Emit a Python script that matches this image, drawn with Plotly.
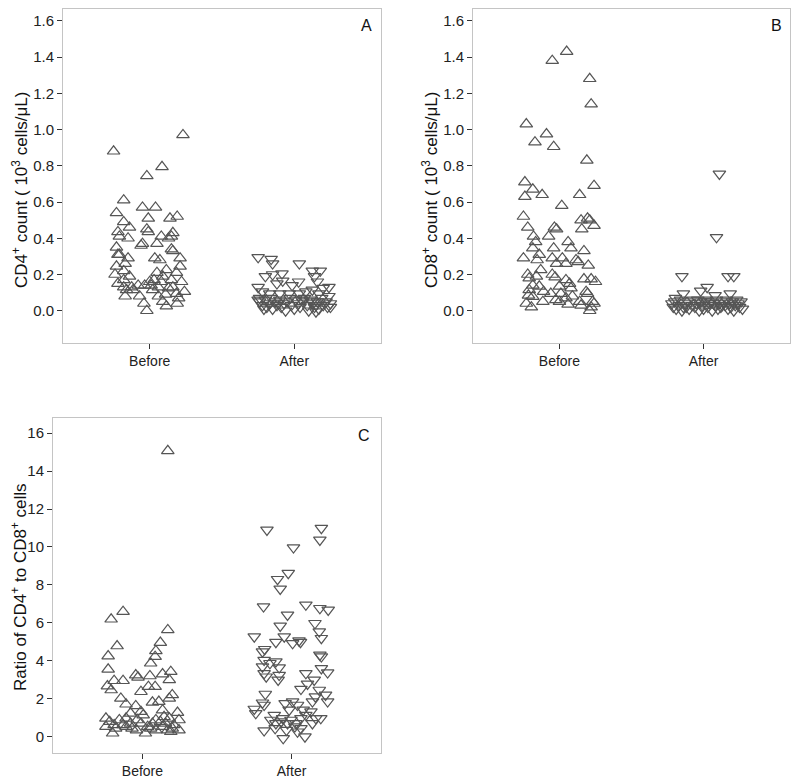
import plotly.graph_objects as go

# ---------------- data ----------------
categories = ["Before", "After"]

cd4_before = [0.88, 0.97, 0.744, 0.794, 0.61, 0.54, 0.57, 0.57, 0.49, 0.46, 0.51, 0.51, 0.52, 0.435, 0.41, 0.40,
              0.45, 0.435, 0.37, 0.36, 0.37, 0.41, 0.40, 0.43, 0.41, 0.34, 0.33, 0.35, 0.31, 0.31, 0.29, 0.29,
              0.245, 0.29, 0.28, 0.245, 0.26, 0.20, 0.19, 0.22, 0.15, 0.13, 0.115, 0.08, 0.115, 0.14, 0.08, 0.04,
              0.0, 0.14, 0.16, 0.115, 0.08, 0.05, 0.025, 0.09, 0.125, 0.17, 0.21, 0.19, 0.225, 0.095, 0.07, 0.04,
              0.105, 0.16, 0.21, 0.17, 0.14, 0.16, 0.13, 0.13, 0.13, 0.17]
cd4_before_jit = [-0.25, 0.23, -0.02, 0.085, -0.18, -0.23, -0.05, 0.04, -0.18, -0.14, -0.01, 0.14, 0.19, -0.22, -0.21, -0.15,
                  -0.02, -0.01, -0.05, -0.06, 0.05, 0.08, 0.13, 0.16, 0.15, 0.15, 0.16, -0.23, -0.22, -0.21, -0.15, 0.21,
                  0.21, 0.035, 0.07, -0.23, -0.17, -0.24, -0.14, -0.18, -0.22, -0.18, -0.16, -0.17, -0.115, -0.08, -0.07, -0.04,
                  -0.02, 0.01, 0.0, 0.02, 0.06, 0.09, 0.115, 0.11, 0.13, 0.15, 0.185, 0.09, 0.115, 0.185, 0.2, 0.19,
                  0.24, 0.22, 0.05, 0.03, -0.035, 0.08, 0.06, 0.16, -0.125, -0.18]

cd4_after = [0.295, 0.285, 0.26, 0.26, 0.19, 0.20, 0.205, 0.15, 0.165, 0.14, 0.16, 0.22, 0.22, 0.19, 0.16, 0.13,
             0.125, 0.13, 0.105, 0.095, 0.095, 0.095, 0.095, 0.105, 0.095, 0.08, 0.115, 0.07, 0.02, -0.005,
             0.05, 0.03, 0.06, 0.02, 0.04, 0.07, 0.01, 0.05, 0.03, 0.06, 0.02, 0.04, 0.0, 0.05, 0.07, 0.03,
             0.01, 0.06, 0.04, 0.02, 0.05, 0.07, 0.03, 0.0, 0.06, 0.04, 0.02, 0.05, 0.01, 0.07, 0.03, 0.05,
             0.02, 0.04, 0.06, 0.01, 0.03, 0.05, 0.04, 0.06]
cd4_after_jit = [-0.25, -0.16, 0.035, -0.15, -0.2, -0.15, -0.085, -0.12, -0.08, -0.015, 0.03, 0.125, 0.18, 0.14, 0.16, 0.24,
                 0.2, -0.25, -0.22, -0.17, -0.1, -0.035, 0.035, 0.08, 0.17, 0.24, 0.125, -0.24, 0.25, 0.15,
                 -0.24, -0.22, -0.2, -0.19, -0.17, -0.16, -0.15, -0.13, -0.12, -0.1, -0.09, -0.07, -0.06, -0.05, -0.03, -0.02,
                 0.0, 0.01, 0.03, 0.04, 0.06, 0.07, 0.09, 0.1, 0.11, 0.13, 0.14, 0.16, 0.17, 0.19, 0.2, 0.22,
                 0.23, 0.25, -0.25, -0.21, 0.15, 0.12, -0.11, 0.05]

cd8_before = [1.43, 1.38, 1.28, 1.14, 1.03, 0.975, 0.93, 0.905, 0.83, 0.71, 0.67, 0.63, 0.64, 0.69, 0.64, 0.58,
              0.52, 0.46, 0.46, 0.45, 0.50, 0.51, 0.50, 0.45, 0.47, 0.41, 0.38, 0.345, 0.41, 0.345, 0.38, 0.345,
              0.33, 0.29, 0.31, 0.28, 0.29, 0.29, 0.26, 0.26, 0.28, 0.27, 0.25, 0.20, 0.18, 0.19, 0.225, 0.20,
              0.185, 0.175, 0.175, 0.16, 0.14, 0.135, 0.115, 0.105, 0.135, 0.17, 0.15, 0.125, 0.095, 0.07, 0.105, 0.095,
              0.085, 0.04, 0.02, 0.05, 0.06, 0.05, 0.035, 0.05, 0.03, 0.02, 0.05, 0.04, 0.0, 0.08, 0.095, 0.078]
cd8_before_jit = [0.05, -0.05, 0.21, 0.22, -0.23, -0.09, -0.17, -0.04, 0.19, -0.24, -0.185, -0.24, -0.12, 0.24, 0.14, 0.016,
                  -0.25, -0.22, -0.035, -0.02, 0.15, 0.195, 0.21, 0.155, 0.24, -0.18, -0.165, -0.185, -0.075, -0.04, 0.06, 0.08,
                  0.17, -0.25, -0.14, -0.155, -0.05, 0.02, -0.02, 0.045, 0.115, 0.13, 0.2, -0.22, -0.21, -0.16, -0.13, -0.05,
                  -0.03, 0.17, 0.22, 0.25, -0.185, -0.14, -0.21, -0.11, 0.0, 0.045, 0.07, 0.08, 0.01, 0.045, 0.185, 0.195,
                  -0.215, -0.23, -0.195, -0.115, -0.025, 0.0, 0.06, 0.14, 0.15, 0.22, 0.23, 0.24, 0.21, 0.09, -0.06, -0.185]

cd8_after = [0.755, 0.405, 0.19, 0.19, 0.19, 0.13, 0.11, 0.095, 0.095, 0.085, 0.07,
             0.04, 0.02, 0.05, 0.01, 0.03, 0.06, 0.0, 0.04, 0.02, 0.05, 0.01, 0.03, 0.06, 0.02, 0.04, 0.0,
             0.05, 0.03, 0.01, 0.06, 0.02, 0.04, 0.05, 0.0, 0.03, 0.06, 0.01, 0.04, 0.02, 0.05, 0.03, 0.06,
             0.01, 0.04, 0.02, 0.05, 0.0, 0.03, 0.06, 0.04, 0.02, 0.05, 0.01, 0.03, 0.04, 0.06, 0.02, 0.05]
cd8_after_jit = [0.11, 0.09, -0.15, 0.17, 0.21, 0.025, -0.02, -0.14, 0.185, 0.08, -0.195,
                 -0.22, -0.21, -0.2, -0.19, -0.17, -0.16, -0.15, -0.13, -0.12, -0.11, -0.1, -0.08, -0.07, -0.06, -0.05, -0.03,
                 -0.02, -0.01, 0.0, 0.02, 0.03, 0.04, 0.05, 0.06, 0.08, 0.09, 0.1, 0.11, 0.12, 0.14, 0.15, 0.16,
                 0.17, 0.18, 0.19, 0.2, 0.21, 0.22, 0.23, 0.24, 0.25, 0.26, 0.27, 0.13, 0.07, -0.04, -0.14, 0.01]

ratio_before = [15.07, 6.19, 6.59, 4.78, 4.25, 3.55, 5.63, 4.96, 4.52, 4.22, 3.87, 2.95, 2.95, 2.67, 2.46, 2.02,
                1.71, 3.25, 3.13, 3.2, 3.3, 3.43, 2.99, 2.37, 2.64, 2.64, 1.81, 1.85, 2.2, 2.02, 1.32, 1.14,
                1.62, 1.23, 1.4, 1.27, 0.88, 0.97, 0.79, 0.53, 0.62, 0.18, 0.88, 0.62, 0.53, 0.7, 0.44, 0.88,
                0.7, 0.18, 0.53, 0.7, 0.35, 0.79, 0.53, 0.7, 0.35, 0.26, 0.62, 0.35, 0.97, 1.05, 0.44, 0.44,
                0.97, 0.35, 0.88, 0.44]
ratio_before_jit = [0.17, -0.21, -0.13, -0.17, -0.23, -0.23, 0.17, 0.12, 0.09, 0.085, 0.055, -0.19, -0.13, -0.235, -0.21, -0.145,
                    -0.11, -0.045, -0.03, 0.05, 0.135, 0.19, 0.18, -0.01, 0.04, 0.085, 0.067, 0.11, 0.2, 0.18, -0.01, 0.005,
                    -0.045, -0.08, 0.135, 0.235, 0.245, -0.245, -0.22, -0.245, -0.19, -0.2, -0.155, -0.13, -0.11, -0.08, -0.07, -0.035,
                    -0.01, 0.02, 0.035, 0.067, 0.09, 0.12, 0.135, 0.155, 0.17, 0.19, 0.21, 0.245, 0.18, 0.145, -0.18, 0.055,
                    -0.11, -0.04, 0.09, 0.2]

ratio_after = [10.9, 10.99, 10.37, 9.97, 8.62, 8.3, 7.79, 6.95, 6.86, 6.77, 6.68, 6.42, 5.98, 5.84, 5.27, 5.27,
               5.54, 5.19, 4.98, 4.92, 5.06, 4.98, 4.61, 4.48, 4.31, 4.22, 4.04, 3.87, 3.96, 3.69, 3.34, 3.16,
               3.64, 3.25, 2.99, 3.34, 3.6, 3.38, 2.99, 2.78, 2.51, 2.46, 2.2, 1.85, 2.25, 1.79, 1.67, 1.46,
               1.23, 1.76, 1.85, 1.67, 1.85, 2.11, 1.14, 0.88, 0.7, 0.97, 0.7, 0.88, 0.7, 0.97, 1.14, 1.32,
               0.97, 0.97, 1.41, 1.41, 0.32, 0.44, -0.09, 0.35, 0.26, 0.0, 0.53, 0.7, 0.44, 0.79]
ratio_after_jit = [-0.165, 0.2, 0.19, 0.013, -0.022, -0.094, -0.076, 0.096, -0.188, 0.19, 0.246, -0.027, 0.157, -0.076, -0.25, -0.049,
                   0.186, 0.2, -0.105, 0.007, 0.05, 0.06, -0.18, -0.195, 0.19, 0.2, -0.184, -0.145, -0.105, -0.195, -0.184, -0.17,
                   -0.083, -0.083, -0.09, 0.096, 0.2, 0.242, 0.152, 0.107, 0.063, 0.186, 0.228, 0.242, -0.176, -0.195, -0.184, -0.25,
                   -0.24, -0.043, 0.007, 0.04, 0.14, 0.16, -0.116, -0.139, -0.105, -0.06, -0.027, -0.004, 0.03, 0.063, 0.096, 0.13,
                   0.163, 0.196, 0.078, -0.016, -0.184, -0.11, -0.056, -0.034, 0.04, 0.09, 0.022, 0.14, 0.063, -0.07]

y_ticks_count = [0.0, 0.2, 0.4, 0.6, 0.8, 1.0, 1.2, 1.4, 1.6]
y_ticks_ratio = [0, 2, 4, 6, 8, 10, 12, 14, 16]

# ---------------- figure ----------------
# the page body has an 8px default margin; the figure is sized so that it
# ends exactly at the 800x783 window edge
OFF = 8
W, H = 800 - OFF, 783 - OFF
FONT = "Liberation Sans, Arial, sans-serif"
MCOL = "#555555"


def px_x(p):
    return (p - OFF) / W


def px_y(p):
    return 1 - (p - OFF) / H


fig = go.Figure()

panels = [
    ("x", "y", cd4_before, cd4_before_jit, cd4_after, cd4_after_jit),
    ("x2", "y2", cd8_before, cd8_before_jit, cd8_after, cd8_after_jit),
    ("x3", "y3", ratio_before, ratio_before_jit, ratio_after, ratio_after_jit),
]

for xa, ya, bv, bj, av, aj in panels:
    fig.add_trace(go.Scatter(
        x=[1 + j for j in bj], y=bv, mode="markers", xaxis=xa, yaxis=ya,
        marker=dict(symbol="triangle-up-open", size=11, color=MCOL, line=dict(width=1.2, color=MCOL)),
        showlegend=False, hoverinfo="y"))
    fig.add_trace(go.Scatter(
        x=[2 + j for j in aj], y=av, mode="markers", xaxis=xa, yaxis=ya,
        marker=dict(symbol="triangle-down-open", size=11, color=MCOL, line=dict(width=1.2, color=MCOL)),
        showlegend=False, hoverinfo="y"))

axis_common = dict(showline=True, linecolor="#c4c4c4", linewidth=1, mirror=True,
                   showgrid=False, zeroline=False, ticks="outside", ticklen=5,
                   tickcolor="#333333", tickwidth=1,
                   tickfont=dict(family=FONT, size=14, color="#222222"))

xcommon = dict(axis_common, range=[0.4, 2.6], tickvals=[1, 2], ticktext=categories)
yfont = dict(family=FONT, size=15, color="#222222")

fig.update_layout(
    width=W, height=H,
    margin=dict(l=0, r=0, t=0, b=0),
    paper_bgcolor="white", plot_bgcolor="white",
    font=dict(family=FONT, color="#222222"),
    xaxis=dict(xcommon, domain=[px_x(63), px_x(381)], anchor="y"),
    yaxis=dict(axis_common, domain=[px_y(343), px_y(9)], anchor="x",
               range=[-0.178, 1.665], tickvals=y_ticks_count, tickfont=yfont,
               ticktext=[f"{v:.1f}" for v in y_ticks_count]),
    xaxis2=dict(xcommon, domain=[px_x(473), px_x(790)], anchor="y2"),
    yaxis2=dict(axis_common, domain=[px_y(343), px_y(9)], anchor="x2",
                range=[-0.178, 1.665], tickvals=y_ticks_count, tickfont=yfont,
                ticktext=[f"{v:.1f}" for v in y_ticks_count]),
    xaxis3=dict(xcommon, domain=[px_x(53), px_x(381)], anchor="y3"),
    yaxis3=dict(axis_common, domain=[px_y(753), px_y(418)], anchor="x3",
                range=[-0.86, 16.8], tickvals=y_ticks_ratio, tickfont=yfont,
                ticktext=[str(v) for v in y_ticks_ratio]),
)

ann = []
for txt, x, y in [("A", 366, 25), ("B", 776, 25), ("C", 364, 435)]:
    ann.append(dict(text=txt, x=px_x(x), y=px_y(y), xref="paper", yref="paper",
                    showarrow=False, font=dict(family=FONT, size=16, color="#111111"),
                    xanchor="center", yanchor="middle"))
for txt, x, y in [("CD4<sup>+</sup> count ( 10<sup>3</sup> cells/μL)", 20, 190),
                  ("CD8<sup>+</sup> count ( 10<sup>3</sup> cells/μL)", 430, 190),
                  ("Ratio of CD4<sup>+</sup> to CD8<sup>+</sup> cells", 19, 587)]:
    ann.append(dict(text=txt, x=px_x(x), y=px_y(y), xref="paper", yref="paper",
                    showarrow=False, textangle=-90,
                    font=dict(family=FONT, size=17, color="#111111"),
                    xanchor="center", yanchor="middle"))
fig.update_layout(annotations=ann)

fig.write_html("out.html")
